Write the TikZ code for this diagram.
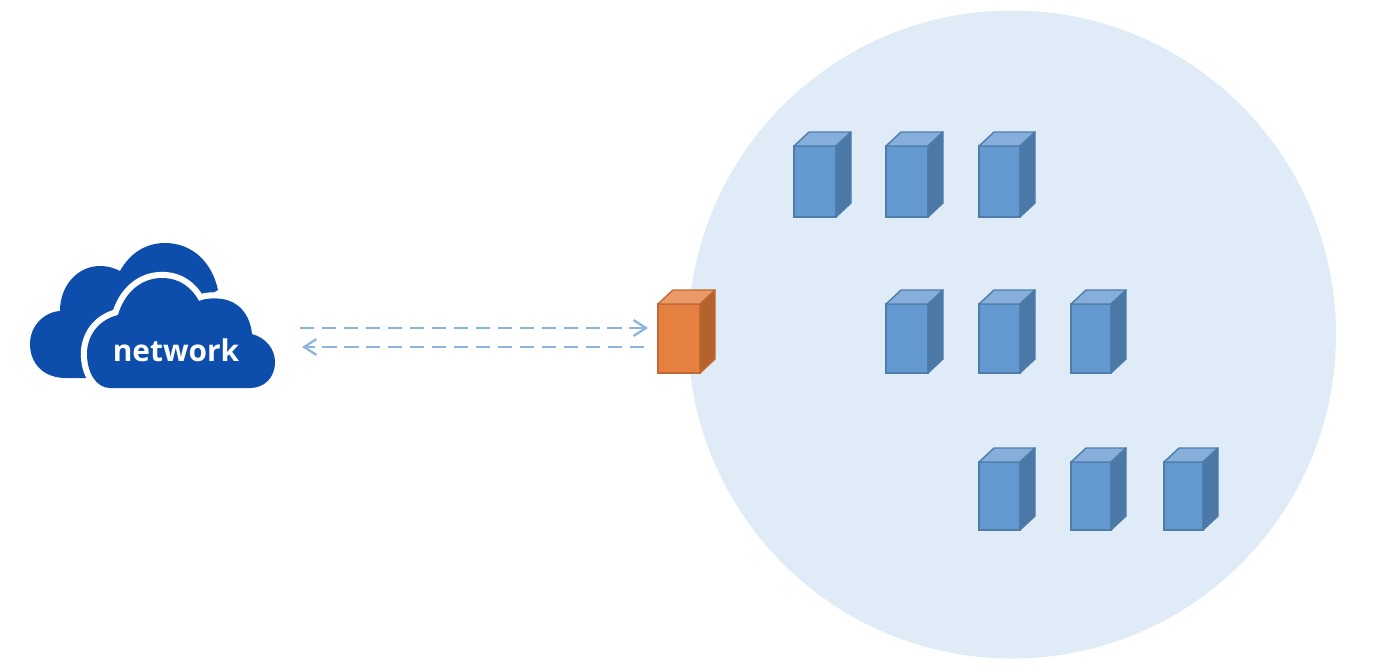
\documentclass[tikz,border=0pt]{standalone}
\usepackage{fontspec}
\setmainfont{Open Sans}
\usetikzlibrary{arrows.meta}
\definecolor{zoneCol}{RGB}{223,235,247}
\definecolor{cloudCol}{RGB}{13,77,171}
\definecolor{linkCol}{RGB}{141,180,224}
\definecolor{srvFront}{RGB}{100,152,209}
\definecolor{srvTop}{RGB}{133,174,219}
\definecolor{srvSide}{RGB}{76,120,168}
\definecolor{srvEdge}{RGB}{78,125,170}
\definecolor{gwFront}{RGB}{229,128,64}
\definecolor{gwTop}{RGB}{234,154,102}
\definecolor{gwSide}{RGB}{180,99,47}
\definecolor{gwEdge}{RGB}{196,104,52}
% name, x, y, width, height, colour prefix
\newcommand{\boxunit}[6]{
  \node[front, draw=#6Edge, fill=#6Front, minimum width=#4*0.02cm, minimum height=#5*0.02cm] (#1) at (#2,#3) {};
  \draw[face, draw=#6Edge, fill=#6Top] (#1.north west) -- ++(15,-14) -- ++(#4,0) -- (#1.north east) -- cycle;
  \draw[face, draw=#6Edge, fill=#6Side] (#1.north east) -- ++(15,-14) -- ++(0,#5) -- (#1.south east) -- cycle;
}
\begin{document}
\begin{tikzpicture}[
  x=0.02cm, y=-0.02cm,
  front/.style={draw, anchor=north west, inner sep=0pt, outer sep=0pt, line width=0.8pt},
  face/.style={line width=0.8pt, line join=round},
  link/.style={draw=linkCol, line width=1.3pt, dash pattern=on 8pt off 4.5pt,
               -{Straight Barb[length=7pt, width=9pt, line width=1.3pt]}},
]
\useasboundingbox (0,0) rectangle (1378,670);

% --- Zone ---
\fill[zoneCol] (1012,334.5) circle[radius=324];

% --- Cloud ---
\fill[cloudCol] (100,378) -- (66,378) .. controls (42,378) and (30,362) .. (30,344)
  .. controls (30,326) and (44,312) .. (60,311)
  .. controls (60,285) and (78,266) .. (100,266)
  .. controls (108,266) and (114,268) .. (120,271)
  .. controls (130,253) and (146,243) .. (165,243)
  .. controls (192,243) and (212,262) .. (218,290)
  -- (150,330) -- cycle;
\path[fill=cloudCol, preaction={draw=white, line width=7pt, line join=round}]
  (110,388) .. controls (96,388) and (87,372) .. (87,354)
  .. controls (87,336) and (98,320) .. (118,315)
  .. controls (124,294) and (140,278) .. (162,278)
  .. controls (180,278) and (192,288) .. (199,301)
  .. controls (206,298) and (216,298) .. (222,299)
  .. controls (238,301) and (250,314) .. (252,334)
  .. controls (266,338) and (275,349) .. (275,362)
  .. controls (275,378) and (264,388) .. (250,388) -- cycle;
\node[text=white, font=\fontsize{17}{20}\bfseries] (net) at (176,350) {network};

% --- Gateway and servers ---
\boxunit{gw}{658}{304}{42}{69}{gw}
\boxunit{srvA}{794}{146}{42}{71}{srv}
\boxunit{srvB}{886}{146}{42}{71}{srv}
\boxunit{srvC}{979}{146}{41}{71}{srv}
\boxunit{srvD}{886}{304}{42}{69}{srv}
\boxunit{srvE}{979}{304}{41}{69}{srv}
\boxunit{srvF}{1071}{304}{40}{69}{srv}
\boxunit{srvG}{979}{462}{41}{68}{srv}
\boxunit{srvH}{1071}{462}{40}{68}{srv}
\boxunit{srvI}{1164}{462}{39}{68}{srv}

% --- Links ---
\coordinate (netOut) at (300,328);
\coordinate (gwIn) at (648,328);
\coordinate (gwOut) at (644,347);
\coordinate (netIn) at (302,347);
\draw[link] (netOut) -- (gwIn);
\draw[link] (gwOut) -- (netIn);
\end{tikzpicture}
\end{document}
